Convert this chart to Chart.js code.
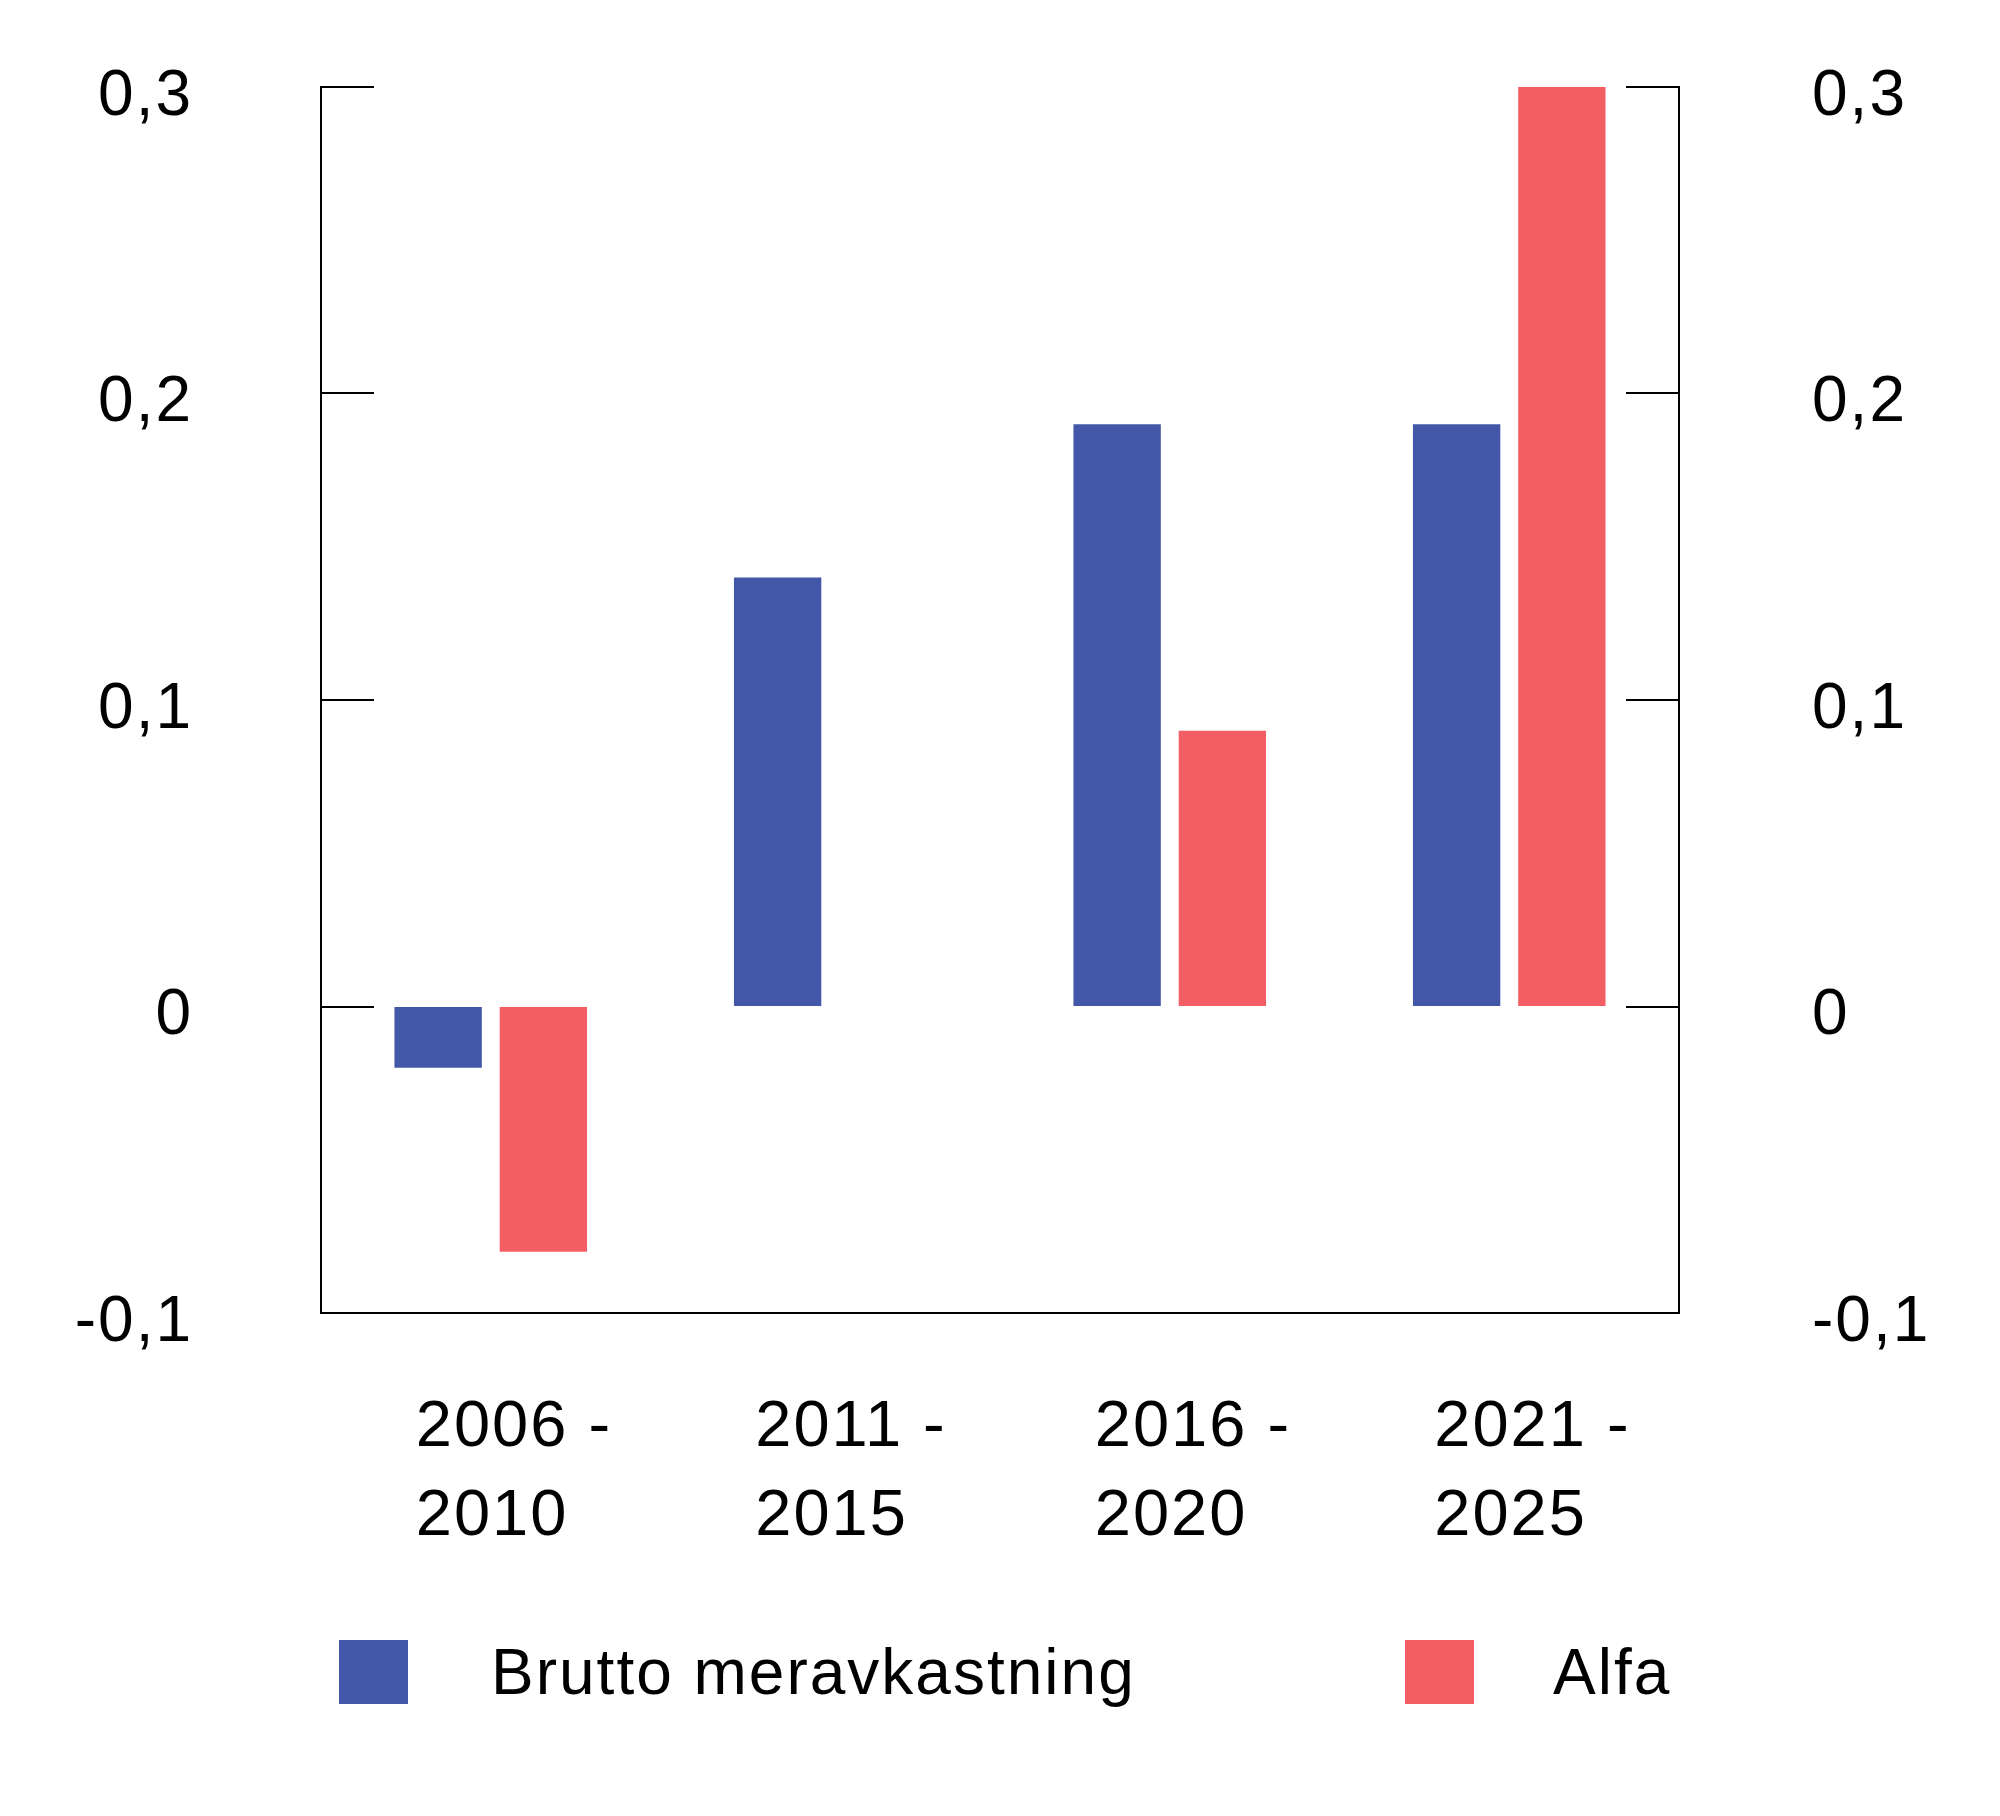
<!DOCTYPE html>
<html>
<head>
<meta charset="utf-8">
<script src="https://cdn.jsdelivr.net/npm/chart.js@4.4.1/dist/chart.umd.min.js"></script>
<style>
  html, body { margin: 0; padding: 0; background: #fff; }
  #wrap { position: relative; width: 2000px; height: 1816px; }
  #legend { position: absolute; left: 0; top: 0; width: 2000px; height: 1816px; pointer-events: none; }
  .item { position: absolute; top: 1640px; height: 64px; }
  .box { position: absolute; left: 0; top: 0; width: 69px; height: 64px; }
  .txt { position: absolute; top: 0; line-height: 64px; white-space: nowrap; letter-spacing: 2px;
         font-family: "Liberation Sans", Arial, sans-serif; font-size: 64px; color: #000; }
</style>
</head>
<body>
<div id="wrap">
  <canvas id="chart" width="2000" height="1816"></canvas>
  <div id="legend"></div>
</div>
<script>
const categories = [["2006 -", "2010"], ["2011 -", "2015"], ["2016 -", "2020"], ["2021 -", "2025"]];
const seriesNames = ["Brutto meravkastning", "Alfa"];
const bruttoValues = [-0.02, 0.14, 0.19, 0.19];
const alfaValues = [-0.08, 0, 0.09, 0.30];
const yTicks = [-0.1, 0, 0.1, 0.2, 0.3];

const FONT = '"Liberation Sans", Arial, sans-serif';

const fmt = (v) => {
  if (Math.abs(v) < 1e-9) return "0";
  return v.toFixed(1).replace(".", ",");
};

// the source typeface runs a little wider than Liberation Sans
const spacing = {
  id: "spacing",
  beforeLayout(chart) {
    chart.ctx.letterSpacing = "2px";
  },
  beforeDraw(chart) {
    chart.ctx.letterSpacing = "2px";
  },
};

// short tick marks pointing into the plot from both value axes
const innerTicks = {
  id: "innerTicks",
  afterDatasetsDraw(chart) {
    const { ctx, chartArea, scales } = chart;
    ctx.save();
    ctx.strokeStyle = "#000";
    ctx.lineWidth = 2;
    scales.y.ticks.forEach((t) => {
      const py = Math.round(scales.y.getPixelForValue(t.value));
      ctx.beginPath();
      ctx.moveTo(chartArea.left, py);
      ctx.lineTo(chartArea.left + 53, py);
      ctx.moveTo(chartArea.right, py);
      ctx.lineTo(chartArea.right - 53, py);
      ctx.stroke();
    });
    ctx.restore();
  },
};

const valueAxis = (position, pad) => ({
  type: "linear",
  position: position,
  min: -0.1,
  max: 0.3,
  afterBuildTicks: (scale) => {
    scale.ticks = yTicks.map((v) => ({ value: v }));
  },
  afterFit: (scale) => {
    scale.width = 321;
    // big label padding should not push the plot down
    scale.paddingTop = 0;
    scale.paddingBottom = 0;
  },
  grid: { display: true, drawOnChartArea: false, drawTicks: false },
  border: { display: true, color: "#000", width: 2 },
  ticks: {
    color: "#000",
    font: { family: FONT, size: 64 },
    padding: pad,
    labelOffset: 10,
    callback: (v) => fmt(v),
  },
});

const ctx = document.getElementById("chart").getContext("2d");
const chart = new Chart(ctx, {
  type: "bar",
  data: {
    labels: categories,
    datasets: [
      {
        label: seriesNames[0],
        data: bruttoValues,
        backgroundColor: "#4257a7",
        yAxisID: "y",
      },
      {
        label: seriesNames[1],
        data: alfaValues,
        backgroundColor: "#f25e64",
        yAxisID: "y",
      },
    ],
  },
  options: {
    responsive: false,
    animation: false,
    devicePixelRatio: 1,
    categoryPercentage: 0.62,
    barPercentage: 0.83,
    layout: { padding: { top: 87, bottom: 253, left: 0, right: 0 } },
    plugins: {
      legend: { display: false },
      tooltip: { enabled: false },
    },
    scales: {
      x: {
        afterFit: (scale) => {
          scale.height = 250;
        },
        grid: { display: true, drawOnChartArea: false, drawTicks: false },
        border: { display: true, color: "#000", width: 2 },
        ticks: {
          color: "#000",
          font: { family: FONT, size: 65, lineHeight: 1.37 },
          padding: 71,
          align: "start",
          labelOffset: -75,
          maxRotation: 0,
          autoSkip: false,
        },
      },
      y: valueAxis("left", 128),
      y2: valueAxis("right", 133),
    },
  },
  plugins: [spacing, innerTicks],
});

// legend built from the chart's datasets
const legendPos = [
  { box: 339, text: 491 },
  { box: 1405, text: 1553 },
];
const legend = document.getElementById("legend");
chart.data.datasets.forEach((ds, i) => {
  const item = document.createElement("div");
  item.className = "item";
  item.style.left = legendPos[i].box + "px";
  const box = document.createElement("div");
  box.className = "box";
  box.style.background = ds.backgroundColor;
  const txt = document.createElement("div");
  txt.className = "txt";
  txt.style.left = legendPos[i].text - legendPos[i].box + "px";
  txt.textContent = ds.label;
  item.appendChild(box);
  item.appendChild(txt);
  legend.appendChild(item);
});
</script>
</body>
</html>
